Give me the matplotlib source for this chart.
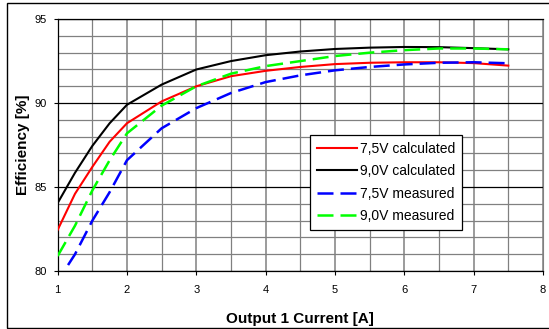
"""
Efficiency vs output current, calculated and measured curves for 7,5V and 9,0V input.
Saves the figure as out.png.
"""
import matplotlib
matplotlib.use("Agg")
import matplotlib.pyplot as plt
from matplotlib.patches import Rectangle

plt.rcParams['font.family'] = ['Liberation Sans', 'DejaVu Sans']

# ****** Data ****** #
current_calc = [1, 1.25, 1.5, 1.75, 2, 2.5, 3, 3.5, 4, 4.5, 5, 5.5, 6, 6.5, 7, 7.5]
eff_75_calc = [82.45, 84.6, 86.2, 87.7, 88.8, 90.1, 91.0, 91.6, 91.92, 92.15, 92.32, 92.4, 92.43, 92.43, 92.38, 92.23]
eff_90_calc = [84.05, 85.85, 87.45, 88.8, 89.9, 91.1, 92.0, 92.5, 92.85, 93.07, 93.22, 93.3, 93.34, 93.33, 93.27, 93.2]

current_meas_75 = [1.15, 1.25, 1.5, 1.75, 2, 2.5, 3, 3.5, 4, 4.5, 5, 5.5, 6, 6.5, 7, 7.5]
eff_75_meas = [80.36, 81.0, 83.0, 84.7, 86.6, 88.5, 89.7, 90.6, 91.25, 91.65, 91.95, 92.15, 92.3, 92.4, 92.43, 92.37]
current_meas_90 = [1, 1.25, 1.5, 1.75, 2, 2.5, 3, 3.5, 4, 4.5, 5, 5.5, 6, 6.5, 7, 7.5]
eff_90_meas = [80.9, 82.7, 84.8, 86.6, 88.2, 89.85, 91.0, 91.75, 92.2, 92.5, 92.8, 93.0, 93.15, 93.25, 93.25, 93.2]

labels = ["7,5V calculated", "9,0V calculated", "7,5V measured", "9,0V measured"]

fig = plt.figure(figsize=(5.49, 3.29), dpi=100)
ax = fig.add_axes([0.105, 0.176, 0.884, 0.766])

# outer chart border like the excel chart area
fig.patches.append(Rectangle((6.5 / 549, 1 - 328 / 329), 1.0, 325 / 329, transform=fig.transFigure,
                             fill=False, edgecolor='black', linewidth=1.0))

dash = (0, (6.4, 2.8))
ax.plot(current_calc, eff_75_calc, color='#ff0000', linewidth=1.5, label=labels[0], zorder=3)
ax.plot(current_calc, eff_90_calc, color='black', linewidth=1.5, label=labels[1], zorder=3)
ax.plot(current_meas_75, eff_75_meas, color='#0000ff', linewidth=1.8, linestyle=dash, label=labels[2], zorder=3)
ax.plot(current_meas_90, eff_90_meas, color='#00ff00', linewidth=1.8, linestyle=dash, label=labels[3], zorder=3)

ax.set_xlim(1, 8)
ax.set_ylim(80, 95)
ax.set_xticks(range(1, 9))
ax.set_yticks([80, 85, 90, 95])
ax.set_xticks([x + 0.5 for x in range(1, 8)], minor=True)
ax.set_yticks([y for y in range(81, 95) if y % 5 != 0], minor=True)

# grid: gray minor lines, black major horizontals
ax.grid(which='minor', color='#808080', linewidth=0.9)
ax.grid(which='major', axis='x', color='#808080', linewidth=1.1)
ax.grid(which='major', axis='y', color='black', linewidth=0.9)
ax.set_axisbelow(True)

ax.tick_params(which='major', direction='out', length=3, width=0.8, labelsize=8, colors='black')
ax.tick_params(axis='x', which='major', pad=7)
ax.tick_params(axis='y', which='major', pad=5)
ax.tick_params(which='minor', length=0)
for side in ['left', 'bottom', 'top']:
    ax.spines[side].set_color('black')
    ax.spines[side].set_linewidth(0.9)
ax.spines['right'].set_color('#808080')

ax.set_xlabel("Output 1 Current [A]", fontsize=11, fontweight='bold', labelpad=12)
ax.set_ylabel("Efficiency [%]", fontsize=11, fontweight='bold', labelpad=3)

leg = ax.legend(loc='upper left', bbox_to_anchor=(0.52, 0.54), fontsize=10, frameon=True, fancybox=False,
                edgecolor='black', framealpha=1, handlelength=2.9, handletextpad=0.2, labelspacing=0.6,
                borderpad=0.5, borderaxespad=0)
leg.get_frame().set_linewidth(0.9)

plt.savefig("out.png", dpi=100)
